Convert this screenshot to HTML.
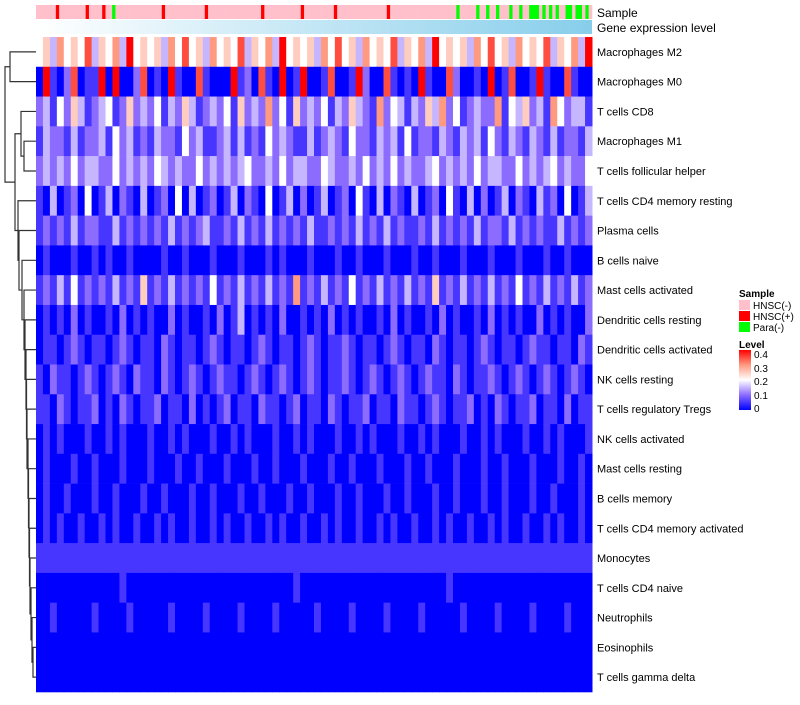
<!DOCTYPE html>
<html><head><meta charset="utf-8"><style>
body{margin:0;background:#fff;font-family:"Liberation Sans",sans-serif}
svg text{font-family:"Liberation Sans",sans-serif}
</style></head><body>
<svg id="chart" width="800" height="700" xmlns="http://www.w3.org/2000/svg">
<g id="sample-bar"></g>
<defs><linearGradient id="gel" x1="0" x2="1"><stop offset="0" stop-color="#ffffff"/><stop offset="1" stop-color="#87ceeb"/></linearGradient>
<linearGradient id="lvl" x1="0" y1="1" x2="0" y2="0"><stop offset="0" stop-color="#0000ff"/><stop offset="0.25" stop-color="#8c6cff"/><stop offset="0.5" stop-color="#ffffff"/><stop offset="0.75" stop-color="#ff9a80"/><stop offset="1" stop-color="#ff0000"/></linearGradient></defs>
<rect x="36" y="20" width="556" height="14" fill="url(#gel)"/>
<text x="597" y="17" font-size="12">Sample</text>
<text x="597" y="32" font-size="12">Gene expression level</text>
<g id="cells"></g>
<g id="labels"></g>
<g id="dendro" stroke="#333" fill="none" stroke-width="1.2"></g>
<g font-size="10">
<text x="739" y="297" font-weight="bold">Sample</text>
<rect x="739" y="300" width="11" height="10" fill="#ffc0cb"/><text x="753" y="309">HNSC(-)</text>
<rect x="739" y="311" width="11" height="10" fill="#ff0000"/><text x="753" y="320">HNSC(+)</text>
<rect x="739" y="322" width="11" height="10" fill="#00ff00"/><text x="753" y="331">Para(-)</text>
</g>
<g font-size="10">
<text x="739" y="348" font-weight="bold">Level</text>
<rect x="739" y="350" width="12" height="60" fill="url(#lvl)"/>
<text x="754" y="358">0.4</text><text x="754" y="372">0.3</text><text x="754" y="385">0.2</text><text x="754" y="399">0.1</text><text x="754" y="412">0</text>
</g>
</svg>
<script>
const rowNames=["Macrophages M2","Macrophages M0","T cells CD8","Macrophages M1","T cells follicular helper","T cells CD4 memory resting","Plasma cells","B cells naive","Mast cells activated","Dendritic cells resting","Dendritic cells activated","NK cells resting","T cells regulatory  Tregs","NK cells activated","Mast cells resting","B cells memory","T cells CD4 memory activated","Monocytes","T cells CD4 naive","Neutrophils","Eosinophils","T cells gamma delta"];
// digit d -> value d*0.05
const rowData=[
"45364547354638454536474536454735463845453647453645473546384545364745364547354638",
"08102701180900270108100710008120710901800170018200710108100720010801700181007100",
"23142531234125232413253123241523262415232413253216243132536241232261435231642331",
"13221312231423121322142311231312142321131232142213231412213213231421321321312213",
"23232423322423232432322423232342232423322432232423242322342323242332242323423224",
"10301204013021030120403012013021040130201301204103021030120410302013021031204013",
"12121312211312121213121231121312131212131121213121312112131212131221312121131212",
"01000100101001000010010001000100010100010001001000100010010001000100010001001000",
"12131412121312151213121214121312131216121312141213121312151213121312141213121312",
"01010201001020101002010010201301010200101020101001020100102010010201010020101002",
"01101210110121011021011012101101210110121011210110121011021011012101101211011021",
"10211012101210211021012101211012101210121011210121012101211021011210121012101210",
"11021011201021011201102010120110211012011021011201102110121011201021011201102011",
"01010001001010001001010001001010001001010001001010001001010001001010001001010001",
"01000100100010001000100100010001001000100010010001000100100010001001000100010010",
"01001000100100010010001001000100100010010001001000100100010010001001000100100010",
"01010010010100100101001001010010010100100101001001010010010100100101001001010010",
"11111111111111111111111111111111111111111111111111111111111111111111111111111111",
"00000000000010000000000000000000000001000000000000000000000100000000000000000000",
"00100000100001000001000010000100001000001000010000100001000001000010000100001000",
"00000000000000000000000000000000000000000000000000000000000000000000000000000000",
"00000000000000000000000000000000000000000000000000000000000000000000000000000000"
];
const sampleCats="nnnnnnpnnnnnnnnpnnnnpnngnnnnnnnnnnnnnnpnnnnnnnnnnnnpnnnnnnnnnnnnnnnnpnnnnnnnnnnnpnnnnnnnnnpnnnnnnnnnnnnnnnpnnnnnnnnnnnnnnnnnnnngnnnnngnngnngnnngnngnngggngngngnnggnggngn";
const X0=36,X1=592,Y0=37,Y1=692;
const nr=rowNames.length,rh=(Y1-Y0)/nr;
const stops=[[0,[0,0,255]],[0.1,[140,108,255]],[0.2,[255,255,255]],[0.3,[255,154,128]],[0.4,[255,0,0]]];
function col(v){v=Math.max(0,Math.min(0.4,v));for(let i=0;i<4;i++){const a=stops[i],b=stops[i+1];if(v<=b[0]){const t=(v-a[0])/(b[0]-a[0]);return "rgb("+a[1].map((c,k)=>Math.round(c+(b[1][k]-c)*t)).join(",")+")";}}return "rgb(255,0,0)";}
const NS="http://www.w3.org/2000/svg";
function xs(i,n){return X0+(X1-X0)*i/n;}
function ys(r){return Y0+rh*r;}
const cells=document.getElementById("cells");
rowData.forEach((s,r)=>{const n=s.length;for(let i=0;i<n;i++){const e=document.createElementNS(NS,"rect");


e.setAttribute("x",xs(i,n));e.setAttribute("y",ys(r));e.setAttribute("width",(X1-X0)/n+0.5);e.setAttribute("height",rh+0.3);e.setAttribute("fill",col(+s[i]*0.05));cells.appendChild(e);}});
const sb=document.getElementById("sample-bar");const cmap={n:"#ffc0cb",p:"#ff0000",g:"#00ff00"};
for(let i=0;i<sampleCats.length;i++){const e=document.createElementNS(NS,"rect");


const n=sampleCats.length;e.setAttribute("x",xs(i,n));e.setAttribute("y",5);e.setAttribute("width",(X1-X0)/n+0.3);e.setAttribute("height",14);e.setAttribute("fill",cmap[sampleCats[i]]);sb.appendChild(e);}
const lb=document.getElementById("labels");
rowNames.forEach((nm,r)=>{const t=document.createElementNS(NS,"text");


t.setAttribute("x",597);t.setAttribute("y",ys(r+0.5)+4);t.setAttribute("font-size","11");t.textContent=nm;lb.appendChild(t);});
const merges=[[0,1,10],[3,4,24],[2,"n1",21],[20,21,33],[19,"n3",32],[18,"n4",31],[17,"n5",30],[16,"n6",29.5],[15,"n7",29],[14,"n8",28.5],[13,"n9",28],[12,"n10",27],[11,"n11",26.5],[10,"n12",26],[9,"n13",25],[8,"n14",24],[7,"n15",22],[6,"n16",19],[5,"n17",18],["n2","n18",15],["n0","n19",5]];
const pos={};const dg=document.getElementById("dendro");
function P(k){return typeof k==="number"?{x:36,y:ys(k+0.5)}:pos[k];}
merges.forEach((m,k)=>{const a=P(m[0]),b=P(m[1]),x=m[2];const p=document.createElementNS(NS,"path");


p.setAttribute("d",`M${a.x},${a.y}H${x}V${b.y}H${b.x}`);dg.appendChild(p);pos["n"+k]={x:x,y:(a.y+b.y)/2};});
</script>
</body></html>
